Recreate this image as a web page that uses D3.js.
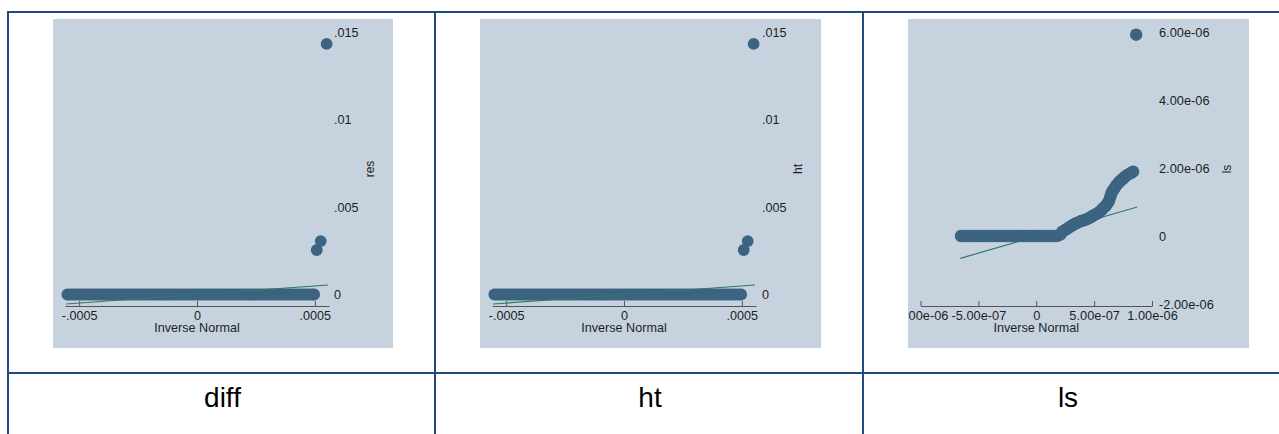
<!DOCTYPE html>
<html>
<head>
<meta charset="utf-8">
<script src="https://cdn.jsdelivr.net/npm/d3@7"></script>
<style>
  html, body { margin: 0; padding: 0; background: #fff; }
  svg { display: block; font-family: "Liberation Sans", Arial, sans-serif; }
</style>
</head>
<body>
<div id="chart"></div>
<script>
// captions under each panel
const captions = ['diff', 'ht', 'ls'];

// diff: inverse normal quantiles (x) and sorted residuals (y)
const diffQx = [
  -0.00055, -0.00054, -0.00053, -0.00052, -0.00051, -0.00050, -0.00049, -0.00048, -0.00047, -0.00046,
  -0.00045, -0.00044, -0.00043, -0.00042, -0.00041, -0.00040, -0.00039, -0.00038, -0.00037, -0.00036,
  -0.00035, -0.00034, -0.00033, -0.00032, -0.00031, -0.00030, -0.00029, -0.00028, -0.00027, -0.00026,
  -0.00025, -0.00024, -0.00023, -0.00022, -0.00021, -0.00020, -0.00019, -0.00018, -0.00017, -0.00016,
  -0.00015, -0.00014, -0.00013, -0.00012, -0.00011, -0.00010, -0.00009, -0.00008, -0.00007, -0.00006,
  -0.00005, -0.00004, -0.00003, -0.00002, -0.00001, 0, 0.00001, 0.00002, 0.00003, 0.00004,
  0.00005, 0.00006, 0.00007, 0.00008, 0.00009, 0.00010, 0.00011, 0.00012, 0.00013, 0.00014,
  0.00015, 0.00016, 0.00017, 0.00018, 0.00019, 0.00020, 0.00021, 0.00022, 0.00023, 0.00024,
  0.00025, 0.00026, 0.00027, 0.00028, 0.00029, 0.00030, 0.00031, 0.00032, 0.00033, 0.00034,
  0.00035, 0.00036, 0.00037, 0.00038, 0.00039, 0.00040, 0.00041, 0.00042, 0.00043, 0.00044,
  0.00045, 0.00046, 0.00047, 0.00048, 0.00049, 0.000497,
  0.000508, 0.000525, 0.00055];
const diffRes = [
  0, 0, 0, 0, 0, 0, 0, 0, 0, 0,
  0, 0, 0, 0, 0, 0, 0, 0, 0, 0,
  0, 0, 0, 0, 0, 0, 0, 0, 0, 0,
  0, 0, 0, 0, 0, 0, 0, 0, 0, 0,
  0, 0, 0, 0, 0, 0, 0, 0, 0, 0,
  0, 0, 0, 0, 0, 0, 0, 0, 0, 0,
  0, 0, 0, 0, 0, 0, 0, 0, 0, 0,
  0, 0, 0, 0, 0, 0, 0, 0, 0, 0,
  0, 0, 0, 0, 0, 0, 0, 0, 0, 0,
  0, 0, 0, 0, 0, 0, 0, 0, 0, 0,
  0, 0, 0, 0, 0, 0,
  0.00255, 0.00306, 0.01435];
const diffRefLine = [[-0.000555, -0.000544], [0.000556, 0.000544]];

// ht: same picture as diff
const htQx = [
  -0.00055, -0.00054, -0.00053, -0.00052, -0.00051, -0.00050, -0.00049, -0.00048, -0.00047, -0.00046,
  -0.00045, -0.00044, -0.00043, -0.00042, -0.00041, -0.00040, -0.00039, -0.00038, -0.00037, -0.00036,
  -0.00035, -0.00034, -0.00033, -0.00032, -0.00031, -0.00030, -0.00029, -0.00028, -0.00027, -0.00026,
  -0.00025, -0.00024, -0.00023, -0.00022, -0.00021, -0.00020, -0.00019, -0.00018, -0.00017, -0.00016,
  -0.00015, -0.00014, -0.00013, -0.00012, -0.00011, -0.00010, -0.00009, -0.00008, -0.00007, -0.00006,
  -0.00005, -0.00004, -0.00003, -0.00002, -0.00001, 0, 0.00001, 0.00002, 0.00003, 0.00004,
  0.00005, 0.00006, 0.00007, 0.00008, 0.00009, 0.00010, 0.00011, 0.00012, 0.00013, 0.00014,
  0.00015, 0.00016, 0.00017, 0.00018, 0.00019, 0.00020, 0.00021, 0.00022, 0.00023, 0.00024,
  0.00025, 0.00026, 0.00027, 0.00028, 0.00029, 0.00030, 0.00031, 0.00032, 0.00033, 0.00034,
  0.00035, 0.00036, 0.00037, 0.00038, 0.00039, 0.00040, 0.00041, 0.00042, 0.00043, 0.00044,
  0.00045, 0.00046, 0.00047, 0.00048, 0.00049, 0.000497,
  0.000508, 0.000525, 0.00055];
const htVal = [
  0, 0, 0, 0, 0, 0, 0, 0, 0, 0,
  0, 0, 0, 0, 0, 0, 0, 0, 0, 0,
  0, 0, 0, 0, 0, 0, 0, 0, 0, 0,
  0, 0, 0, 0, 0, 0, 0, 0, 0, 0,
  0, 0, 0, 0, 0, 0, 0, 0, 0, 0,
  0, 0, 0, 0, 0, 0, 0, 0, 0, 0,
  0, 0, 0, 0, 0, 0, 0, 0, 0, 0,
  0, 0, 0, 0, 0, 0, 0, 0, 0, 0,
  0, 0, 0, 0, 0, 0, 0, 0, 0, 0,
  0, 0, 0, 0, 0, 0, 0, 0, 0, 0,
  0, 0, 0, 0, 0, 0,
  0.00255, 0.00306, 0.01435];
const htRefLine = [[-0.000555, -0.000544], [0.000556, 0.000544]];

// ls
const lsQx = [
  -6.5e-7, -6.3e-7, -6.1e-7, -5.9e-7, -5.7e-7, -5.5e-7, -5.3e-7, -5.1e-7, -4.9e-7, -4.7e-7,
  -4.5e-7, -4.3e-7, -4.1e-7, -3.9e-7, -3.7e-7, -3.5e-7, -3.3e-7, -3.1e-7, -2.9e-7, -2.7e-7,
  -2.5e-7, -2.3e-7, -2.1e-7, -1.9e-7, -1.7e-7, -1.5e-7, -1.3e-7, -1.1e-7, -0.9e-7, -0.7e-7,
  -0.5e-7, -0.3e-7, -0.1e-7, 0.1e-7, 0.3e-7, 0.5e-7, 0.7e-7, 0.9e-7, 1.1e-7, 1.3e-7,
  1.5e-7, 1.7e-7, 1.9e-7, 2.1e-7, 2.26e-7, 2.5e-7, 2.7e-7, 2.87e-7, 3.05e-7, 3.2e-7,
  3.35e-7, 3.5e-7, 3.74e-7, 3.9e-7, 4.1e-7, 4.25e-7, 4.4e-7, 4.61e-7, 4.75e-7, 4.9e-7,
  5.05e-7, 5.2e-7, 5.35e-7, 5.48e-7, 5.65e-7, 5.8e-7, 5.95e-7, 6.06e-7, 6.2e-7, 6.3e-7,
  6.4e-7, 6.5e-7, 6.62e-7, 6.75e-7, 6.9e-7, 7.07e-7, 7.2e-7, 7.35e-7, 7.5e-7, 7.65e-7,
  7.8e-7, 8.0e-7, 8.2e-7, 8.37e-7,
  8.63e-7];
const lsVal = [
  0, 0, 0, 0, 0, 0, 0, 0, 0, 0,
  0, 0, 0, 0, 0, 0, 0, 0, 0, 0,
  0, 0, 0, 0, 0, 0, 0, 0, 0, 0,
  0, 0, 0, 0, 0, 0, 0, 0, 0, 0,
  0, 0, 0.1e-7, 0.5e-7, 1.26e-7, 1.8e-7, 2.2e-7, 2.6e-7, 3.0e-7, 3.3e-7,
  3.6e-7, 3.8e-7, 4.2e-7, 4.4e-7, 4.6e-7, 4.8e-7, 5.0e-7, 5.3e-7, 5.6e-7, 6.0e-7,
  6.2e-7, 6.5e-7, 6.8e-7, 7.1e-7, 7.7e-7, 8.2e-7, 8.7e-7, 9.1e-7, 9.8e-7, 10.5e-7,
  11.6e-7, 12.6e-7, 13.4e-7, 14.0e-7, 14.8e-7, 15.5e-7, 16.0e-7, 16.4e-7, 16.9e-7, 17.4e-7,
  17.8e-7, 18.2e-7, 18.6e-7, 18.9e-7,
  59.2e-7];
const lsRefLine = [[-6.55e-7, -6.56e-7], [8.72e-7, 8.53e-7]];

// tick values and labels
const smallXTicks = [-0.0005, 0, 0.0005];
const smallXLabels = ['-.0005', '0', '.0005'];
const smallYTicks = [0, 0.005, 0.01, 0.015];
const smallYLabels = ['0', '.005', '.01', '.015'];
const lsXTicks = [-1e-6, -5e-7, 0, 5e-7, 1e-6];
const lsXLabels = ['-1.00e-06', '-5.00e-07', '0', '5.00e-07', '1.00e-06'];
const lsYTicks = [-2e-6, 0, 2e-6, 4e-6, 6e-6];
const lsYLabels = ['-2.00e-06', '0', '2.00e-06', '4.00e-06', '6.00e-06'];

const W = 1279, H = 434;
const lineColor = '#1f497d';
const bg = '#c6d3df';
const dotColor = '#3c6481';
const refColor = '#2f7a63';
const textColor = '#1e1e1e';

const svg = d3.select('#chart').append('svg').attr('width', W).attr('height', H);

// table grid
const colX = [8, 435, 863, 1291];
[12, 373].forEach(y => {
  svg.append('line').attr('x1', 7).attr('x2', W).attr('y1', y).attr('y2', y)
    .attr('stroke', lineColor).attr('stroke-width', 2);
});
colX.forEach(x => {
  svg.append('line').attr('x1', x).attr('x2', x).attr('y1', 11).attr('y2', H)
    .attr('stroke', lineColor).attr('stroke-width', 2);
});
captions.forEach((c, i) => {
  svg.append('text')
    .attr('x', (colX[i] + Math.min(colX[i + 1], 1271)) / 2 + 1)
    .attr('y', 407)
    .attr('text-anchor', 'middle')
    .style('font-size', '28px')
    .attr('fill', '#000')
    .text(c);
});

const panels = [
  { left: 53, width: 340, qx: diffQx, qy: diffRes, ref: diffRefLine, refOnTop: true,
    xDomain: [-0.00056, 0.00056], xRange: [12, 276], yDomain: [0, 0.015], yRange: [275.5, 13.6],
    xTicks: smallXTicks, xLabels: smallXLabels, yTicks: smallYTicks, yLabels: smallYLabels,
    yLabelX: 281, titleX: 317, yTitle: 'res', r: 5.9, fs: 12.6 },
  { left: 480, width: 341, qx: htQx, qy: htVal, ref: htRefLine, refOnTop: true,
    xDomain: [-0.00056, 0.00056], xRange: [12, 276], yDomain: [0, 0.015], yRange: [275.5, 13.6],
    xTicks: smallXTicks, xLabels: smallXLabels, yTicks: smallYTicks, yLabels: smallYLabels,
    yLabelX: 282, titleX: 318, yTitle: 'ht', r: 5.9, fs: 12.6 },
  { left: 908, width: 341, qx: lsQx, qy: lsVal, ref: lsRefLine, refOnTop: false,
    xDomain: [-1e-6, 1e-6], xRange: [12.5, 244], yDomain: [-2e-6, 6e-6], yRange: [285, 13],
    xTicks: lsXTicks, xLabels: lsXLabels, yTicks: lsYTicks, yLabels: lsYLabels,
    yLabelX: 251, titleX: 319, yTitle: 'ls', r: 6.2, fs: 12.8 },
];

const panelTop = 19, panelH = 329;

panels.forEach((p, i) => {
  const clipId = 'clip' + i;
  svg.append('clipPath').attr('id', clipId)
    .append('rect').attr('width', p.width).attr('height', panelH);

  const g = svg.append('g')
    .attr('transform', `translate(${p.left},${panelTop})`)
    .attr('clip-path', `url(#${clipId})`);

  g.append('rect').attr('width', p.width).attr('height', panelH).attr('fill', bg);

  const x = d3.scaleLinear().domain(p.xDomain).range(p.xRange);
  const y = d3.scaleLinear().domain(p.yDomain).range(p.yRange);

  // x axis, ticks pointing up into plot
  const xAxis = d3.axisBottom(x)
    .tickValues(p.xTicks)
    .tickFormat((d, k) => p.xLabels[k])
    .tickSizeInner(-5)
    .tickSizeOuter(0)
    .tickPadding(0);
  const xg = g.append('g').attr('transform', 'translate(0,287)').call(xAxis);
  xg.select('.domain').attr('stroke', '#555').attr('stroke-width', 1);
  xg.selectAll('.tick line').attr('stroke', '#555');
  xg.selectAll('.tick text')
    .attr('y', 13.5).attr('dy', 0)
    .attr('fill', textColor)
    .style('font-size', p.fs + 'px')
    .style('font-family', '"Liberation Sans", Arial, sans-serif');

  g.append('text')
    .attr('x', x(0)).attr('y', 312.5)
    .attr('text-anchor', 'middle')
    .attr('fill', textColor)
    .style('font-size', '12.6px')
    .text('Inverse Normal');

  // y axis labels on the right, no line
  const yAxis = d3.axisRight(y)
    .tickValues(p.yTicks)
    .tickFormat((d, k) => p.yLabels[k])
    .tickSize(0)
    .tickPadding(0);
  const yg = g.append('g').attr('transform', `translate(${p.yLabelX},0)`).call(yAxis);
  yg.select('.domain').remove();
  yg.selectAll('.tick text')
    .attr('fill', textColor)
    .style('font-size', p.fs + 'px')
    .style('font-family', '"Liberation Sans", Arial, sans-serif');

  g.append('text')
    .attr('transform', `translate(${p.titleX},${150}) rotate(-90)`)
    .attr('text-anchor', 'middle')
    .attr('dy', '0.35em')
    .attr('fill', textColor)
    .style('font-size', '12px')
    .text(p.yTitle);

  const pts = p.qx.map((v, k) => ({ qx: v, val: p.qy[k] }));

  const drawRef = () => g.append('line')
    .attr('x1', x(p.ref[0][0])).attr('y1', y(p.ref[0][1]))
    .attr('x2', x(p.ref[1][0])).attr('y2', y(p.ref[1][1]))
    .attr('stroke', refColor).attr('stroke-width', 1.2);

  if (!p.refOnTop) drawRef();

  g.append('g').selectAll('circle')
    .data(pts)
    .enter()
    .append('circle')
    .attr('cx', d => x(d.qx))
    .attr('cy', d => y(d.val))
    .attr('r', p.r)
    .attr('fill', dotColor);

  if (p.refOnTop) drawRef();
});
</script>
</body>
</html>
